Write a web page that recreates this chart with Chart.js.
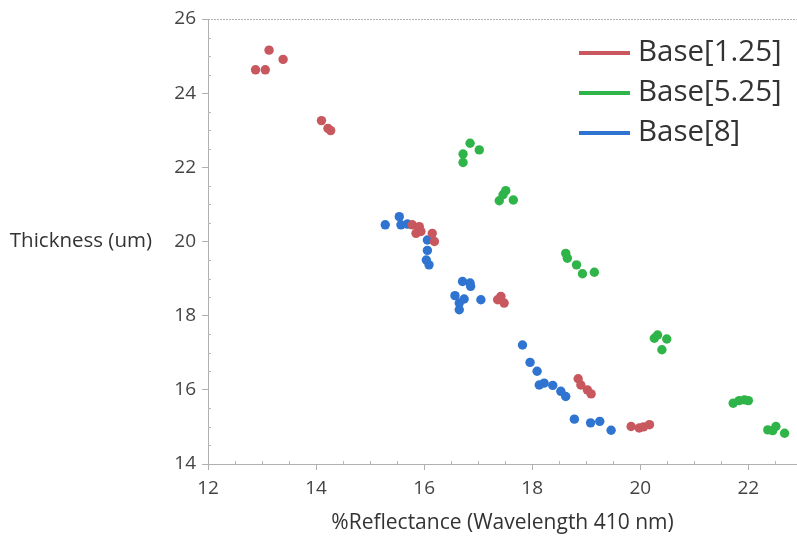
<!DOCTYPE html>
<html>
<head>
<meta charset="utf-8">
<script src="https://cdn.jsdelivr.net/npm/chart.js@4.4.0/dist/chart.umd.min.js"></script>
<style>
  html, body { margin: 0; padding: 0; background: #fff; }
  #wrap { width: 797px; height: 539px; }
</style>
</head>
<body>
<div id="wrap"><canvas id="chart" width="797" height="539"></canvas></div>
<script>
const seriesNames = ["Base[1.25]", "Base[5.25]", "Base[8]"];
const seriesColors = ["#c8575e", "#2fb44a", "#2f74d0"];

const redX = [12.88, 13.06, 13.13, 13.39, 14.10, 14.22, 14.27, 15.78, 15.91, 15.85, 15.94, 16.15, 16.19, 17.36, 17.42, 17.48, 18.85, 18.90, 19.02, 19.09, 19.83, 19.98, 20.06, 20.17];
const redY = [24.63, 24.63, 25.16, 24.91, 23.26, 23.05, 22.99, 20.45, 20.40, 20.22, 20.27, 20.22, 20.00, 18.43, 18.52, 18.34, 16.30, 16.13, 16.00, 15.89, 15.01, 14.97, 15.00, 15.06];

const greenX = [16.72, 16.72, 16.85, 17.02, 17.39, 17.46, 17.51, 17.65, 18.62, 18.65, 18.82, 18.93, 19.15, 20.26, 20.32, 20.49, 20.40, 21.72, 21.83, 21.93, 22.00, 22.36, 22.45, 22.51, 22.67];
const greenY = [22.36, 22.13, 22.65, 22.47, 21.10, 21.26, 21.37, 21.12, 19.68, 19.55, 19.37, 19.13, 19.17, 17.39, 17.48, 17.37, 17.08, 15.64, 15.71, 15.73, 15.71, 14.92, 14.90, 15.01, 14.83];

const blueX = [15.28, 15.54, 15.57, 15.69, 16.06, 16.06, 16.04, 16.09, 16.71, 16.85, 16.86, 16.57, 16.74, 16.65, 16.65, 17.05, 17.82, 17.96, 18.09, 18.13, 18.22, 18.38, 18.53, 18.62, 18.78, 19.08, 19.25, 19.46];
const blueY = [20.45, 20.67, 20.45, 20.47, 20.04, 19.76, 19.50, 19.37, 18.92, 18.88, 18.79, 18.54, 18.45, 18.34, 18.16, 18.43, 17.21, 16.74, 16.50, 16.13, 16.18, 16.12, 15.96, 15.82, 15.21, 15.11, 15.15, 14.91];

const xTicks = [12, 14, 16, 18, 20, 22];
const yTicks = [14, 16, 18, 20, 22, 24, 26];

const xTitle = "%Reflectance (Wavelength 410 nm)";
const yTitle = "Thickness (um)";

const FONT = "'Open Sans', 'Noto Sans', sans-serif";

function pairs(xs, ys) {
  return xs.map((x, i) => ({ x: x, y: ys[i] }));
}

const allX = [redX, greenX, blueX];
const allY = [redY, greenY, blueY];

// extra drawing: top border, minor ticks, y title, legend
const decorations = {
  id: "decorations",
  afterDraw(chart) {
    const ctx = chart.ctx;
    const area = chart.chartArea;
    const xs = chart.scales.x;
    const ys = chart.scales.y;
    ctx.save();

    // dotted top border
    ctx.strokeStyle = "#b0b0b0";
    ctx.lineWidth = 1;
    ctx.setLineDash([2, 1]);
    ctx.beginPath();
    ctx.moveTo(area.left, area.top + 0.5);
    ctx.lineTo(area.right, area.top + 0.5);
    ctx.stroke();
    ctx.setLineDash([]);

    // minor ticks
    ctx.strokeStyle = "#b8b8b8";
    ctx.beginPath();
    for (let v = 12.5; v < 22.9; v += 0.5) {
      if (v % 2 === 0) continue;
      const px = Math.round(xs.getPixelForValue(v)) + 0.5;
      ctx.moveTo(px, area.bottom);
      ctx.lineTo(px, area.bottom - 3);
    }
    for (let v = 14.5; v < 26; v += 0.5) {
      if (v % 2 === 0) continue;
      const py = Math.round(ys.getPixelForValue(v)) + 0.5;
      ctx.moveTo(area.left, py);
      ctx.lineTo(area.left + 3, py);
    }
    ctx.stroke();

    // horizontal y-axis title
    ctx.fillStyle = "#333";
    ctx.font = "20.5px " + FONT;
    ctx.textAlign = "right";
    ctx.textBaseline = "middle";
    ctx.fillText(yTitle, 152, ys.getPixelForValue(20));

    // legend
    ctx.font = "29.5px " + FONT;
    ctx.textAlign = "left";
    chart.data.datasets.forEach((ds, i) => {
      const y = 53 + i * 40;
      ctx.strokeStyle = ds.backgroundColor;
      ctx.lineWidth = 4;
      ctx.beginPath();
      ctx.moveTo(579, y);
      ctx.lineTo(630, y);
      ctx.stroke();
      ctx.fillStyle = "#333";
      ctx.fillText(ds.label, 638, y);
    });
    ctx.restore();
  }
};

new Chart(document.getElementById("chart"), {
  type: "scatter",
  plugins: [decorations],
  data: {
    datasets: seriesNames.map((name, i) => ({
      label: name,
      data: pairs(allX[i], allY[i]),
      backgroundColor: seriesColors[i],
      borderColor: seriesColors[i],
      borderWidth: 0,
      pointRadius: 4.7,
    })),
  },
  options: {
    responsive: false,
    animation: false,
    layout: { autoPadding: false, padding: { top: 19, right: 0, left: 0, bottom: 0 } },
    plugins: {
      legend: { display: false },
      tooltip: { enabled: false },
    },
    scales: {
      x: {
        type: "linear",
        min: 12,
        max: 22.9,
        afterFit: (s) => { s.height = 75; s.paddingLeft = 0; s.paddingRight = 0; },
        afterBuildTicks: (s) => { s.ticks = xTicks.map((v) => ({ value: v })); },
        ticks: { color: "#444", font: { family: FONT, size: 19 }, padding: 7 },
        grid: { drawOnChartArea: false, tickLength: 6, color: "#b0b0b0" },
        border: { color: "#b0b0b0", dash: [2, 1] },
        title: {
          display: true,
          text: xTitle,
          color: "#333",
          font: { family: FONT, size: 21 },
          padding: { top: 4, bottom: 3 },
        },
      },
      y: {
        type: "linear",
        min: 14,
        max: 26,
        afterFit: (s) => { s.width = 208; s.paddingTop = 0; s.paddingBottom = 0; },
        afterBuildTicks: (s) => { s.ticks = yTicks.map((v) => ({ value: v })); },
        ticks: { color: "#444", font: { family: FONT, size: 19 }, padding: 6 },
        grid: { drawOnChartArea: false, tickLength: 6, color: "#b0b0b0" },
        border: { color: "#b0b0b0", dash: [2, 1] },
      },
    },
  },
});
</script>
</body>
</html>
